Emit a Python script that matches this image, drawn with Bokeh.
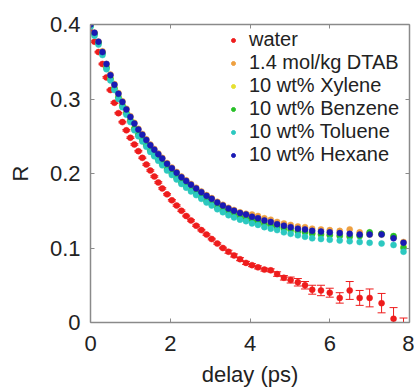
from bokeh.plotting import figure
from bokeh.models import (ColumnDataSource, Range1d, LinearAxis, FixedTicker,
                          Legend, LegendItem, Whisker, TeeHead)
from bokeh.embed import file_html
from bokeh.resources import INLINE

delay = [0.0, 0.1, 0.2, 0.3, 0.4, 0.5, 0.6, 0.7, 0.8, 0.9, 1.0, 1.1, 1.2, 1.3,
         1.4, 1.5, 1.6, 1.7, 1.8, 1.92, 2.04, 2.16, 2.28, 2.4, 2.52, 2.65, 2.78,
         2.91, 3.04, 3.18, 3.32, 3.46, 3.6, 3.75, 3.9, 4.05, 4.2, 4.36, 4.52,
         4.68, 4.85, 5.02, 5.2, 5.38, 5.56, 5.78, 6.0, 6.25, 6.5, 6.75, 7.0,
         7.3, 7.6, 7.85]

water = [0.390, 0.377, 0.363, 0.347, 0.329, 0.312, 0.295, 0.281, 0.269, 0.258,
         0.248, 0.239, 0.230, 0.221, 0.212, 0.204, 0.196, 0.188, 0.180, 0.172,
         0.164, 0.157, 0.150, 0.143, 0.137, 0.130, 0.124, 0.118, 0.112, 0.106,
         0.100, 0.095, 0.090, 0.085, 0.080, 0.077, 0.074, 0.071, 0.070, 0.065,
         0.060, 0.057, 0.054, 0.050, 0.044, 0.043, 0.040, 0.033, 0.043, 0.033,
         0.033, 0.026, 0.005, -0.010]
water_err = [0.001, 0.001, 0.001, 0.001, 0.001, 0.001, 0.001, 0.001, 0.001, 0.001,
             0.001, 0.001, 0.001, 0.001, 0.001, 0.001, 0.001, 0.001, 0.001, 0.001,
             0.001, 0.001, 0.001, 0.001, 0.001, 0.001, 0.001, 0.001, 0.001, 0.001,
             0.001, 0.002, 0.002, 0.002, 0.002, 0.002, 0.002, 0.002, 0.002, 0.003,
             0.003, 0.004, 0.005, 0.005, 0.006, 0.007, 0.006, 0.007, 0.012, 0.010,
             0.012, 0.013, 0.015, 0.016]

dtab = [0.399, 0.389, 0.377, 0.364, 0.347, 0.333, 0.320, 0.308, 0.297, 0.287,
        0.277, 0.268, 0.260, 0.253, 0.246, 0.239, 0.233, 0.227, 0.221, 0.214,
        0.208, 0.202, 0.196, 0.191, 0.186, 0.181, 0.176, 0.171, 0.167, 0.162,
        0.158, 0.154, 0.151, 0.148, 0.146, 0.145, 0.143, 0.140, 0.138, 0.135,
        0.133, 0.131, 0.129, 0.128, 0.126, 0.125, 0.124, 0.123, 0.125, 0.121,
        0.120, 0.119, 0.114, 0.108]

xylene = [0.399, 0.388, 0.376, 0.362, 0.343, 0.328, 0.315, 0.303, 0.292, 0.282,
          0.272, 0.261, 0.253, 0.246, 0.239, 0.232, 0.226, 0.220, 0.214, 0.207,
          0.201, 0.195, 0.189, 0.184, 0.179, 0.174, 0.169, 0.164, 0.160, 0.155,
          0.151, 0.148, 0.145, 0.142, 0.140, 0.138, 0.136, 0.133, 0.131, 0.129,
          0.127, 0.125, 0.123, 0.122, 0.120, 0.119, 0.118, 0.117, 0.116, 0.117,
          0.118, 0.118, 0.115, 0.102]

benzene = [0.398, 0.387, 0.375, 0.361, 0.342, 0.327, 0.314, 0.302, 0.291, 0.281,
           0.271, 0.260, 0.252, 0.245, 0.238, 0.231, 0.225, 0.219, 0.213, 0.206,
           0.200, 0.194, 0.188, 0.183, 0.178, 0.173, 0.168, 0.163, 0.159, 0.154,
           0.150, 0.147, 0.144, 0.141, 0.139, 0.137, 0.135, 0.132, 0.130, 0.128,
           0.126, 0.124, 0.122, 0.121, 0.119, 0.118, 0.117, 0.116, 0.115, 0.116,
           0.121, 0.119, 0.116, 0.100]

toluene = [0.397, 0.385, 0.373, 0.359, 0.340, 0.325, 0.312, 0.300, 0.289, 0.279,
           0.269, 0.258, 0.250, 0.243, 0.236, 0.229, 0.223, 0.217, 0.211, 0.204,
           0.198, 0.192, 0.186, 0.181, 0.176, 0.171, 0.166, 0.161, 0.157, 0.152,
           0.148, 0.144, 0.141, 0.138, 0.136, 0.133, 0.131, 0.128, 0.126, 0.124,
           0.121, 0.119, 0.117, 0.115, 0.113, 0.112, 0.111, 0.110, 0.109, 0.108,
           0.107, 0.106, 0.104, 0.095]

hexane = [0.400, 0.389, 0.377, 0.363, 0.347, 0.332, 0.319, 0.307, 0.296, 0.286,
          0.276, 0.267, 0.259, 0.252, 0.245, 0.238, 0.232, 0.226, 0.220, 0.213,
          0.207, 0.201, 0.195, 0.190, 0.185, 0.180, 0.175, 0.170, 0.166, 0.161,
          0.157, 0.153, 0.150, 0.147, 0.145, 0.142, 0.140, 0.137, 0.135, 0.132,
          0.130, 0.128, 0.126, 0.125, 0.123, 0.122, 0.121, 0.120, 0.119, 0.118,
          0.118, 0.118, 0.113, 0.107]

series_names = ["water", "1.4 mol/kg DTAB", "10 wt% Xylene", "10 wt% Benzene",
                "10 wt% Toluene", "10 wt% Hexane"]
series_values = [water, dtab, xylene, benzene, toluene, hexane]
series_colors = ["#ee1c1c", "#eea040", "#e6e030", "#28c028", "#2cc8c0", "#1a1ab4"]

x_ticks = [0, 2, 4, 6, 8]
y_ticks = [0, 0.1, 0.2, 0.3, 0.4]
x_tick_labels = {0: "0", 2: "2", 4: "4", 6: "6", 8: "8"}
y_tick_labels = {0: "0", 0.1: "0.1", 0.2: "0.2", 0.3: "0.3", 0.4: "0.4"}

FONT = "Liberation Sans"
AX_COLOR = "#8a8a8a"
TXT_COLOR = "#222222"

p = figure(width=414, height=389, output_backend="svg", toolbar_location=None,
           x_range=Range1d(0, 8), y_range=Range1d(0, 0.4),
           min_border_left=90, min_border_right=5, min_border_top=24,
           min_border_bottom=0)
p.xgrid.visible = False
p.ygrid.visible = False
p.outline_line_color = None
p.background_fill_color = "white"
p.border_fill_color = "white"

def style_axis(ax):
    ax.axis_line_color = AX_COLOR
    ax.axis_line_width = 1.5
    ax.major_tick_line_color = AX_COLOR
    ax.major_tick_line_width = 1
    ax.major_tick_in = 4
    ax.major_tick_out = 0
    ax.minor_tick_line_color = None
    ax.major_label_text_font = FONT
    ax.major_label_text_color = TXT_COLOR
    ax.major_label_text_font_size = "22px"
    ax.axis_label_text_font = FONT
    ax.axis_label_text_color = TXT_COLOR
    ax.axis_label_text_font_style = "normal"
    ax.axis_label_text_font_size = "22px"

xa = p.xaxis[0]
ya = p.yaxis[0]
xa.ticker = FixedTicker(ticks=x_ticks)
ya.ticker = FixedTicker(ticks=y_ticks)
style_axis(xa)
style_axis(ya)
xa.axis_label = "delay (ps)"
ya.axis_label = "R"
xa.major_label_standoff = 13
ya.major_label_standoff = 10
xa.axis_label_standoff = 8
ya.axis_label_standoff = 14
xa.major_label_overrides = x_tick_labels
ya.major_label_overrides = y_tick_labels

top = LinearAxis(ticker=FixedTicker(ticks=x_ticks))
right = LinearAxis(ticker=FixedTicker(ticks=y_ticks))
style_axis(top)
style_axis(right)
top.major_label_overrides = {t: "" for t in x_ticks}
right.major_label_overrides = {t: "" for t in y_ticks}
top.major_label_standoff = 0
right.major_label_standoff = 0
p.add_layout(top, "above")
p.add_layout(right, "right")

# error bars for water
lower = [v - e for v, e in zip(water, water_err)]
upper = [v + e for v, e in zip(water, water_err)]
err_src = ColumnDataSource(dict(x=delay, lower=lower, upper=upper))
wh = Whisker(base="x", lower="lower", upper="upper", source=err_src,
             line_color=series_colors[0], line_width=1,
             upper_head=TeeHead(size=8, line_color=series_colors[0], line_width=1),
             lower_head=TeeHead(size=8, line_color=series_colors[0], line_width=1))
p.add_layout(wh)

items = []
for name, vals, col in zip(series_names, series_values, series_colors):
    src = ColumnDataSource(dict(x=delay, y=vals))
    # small markers used for the legend key; hidden under the larger data dots
    small = p.scatter("x", "y", source=src, size=4, fill_color=col, line_color=col)
    p.scatter("x", "y", source=src, size=6, fill_color=col, line_color=col,
              line_width=0.5)
    items.append(LegendItem(label=name, renderers=[small]))

legend = Legend(items=items, location=(138, 156),
                label_text_font=FONT, label_text_font_size="20px",
                label_text_color=TXT_COLOR, label_height=20, glyph_height=20,
                glyph_width=10, label_standoff=11, spacing=0,
                padding=0, margin=0, border_line_color=None,
                background_fill_alpha=0)
p.add_layout(legend, "center")

open("out.html", "w").write(file_html(p, INLINE))
